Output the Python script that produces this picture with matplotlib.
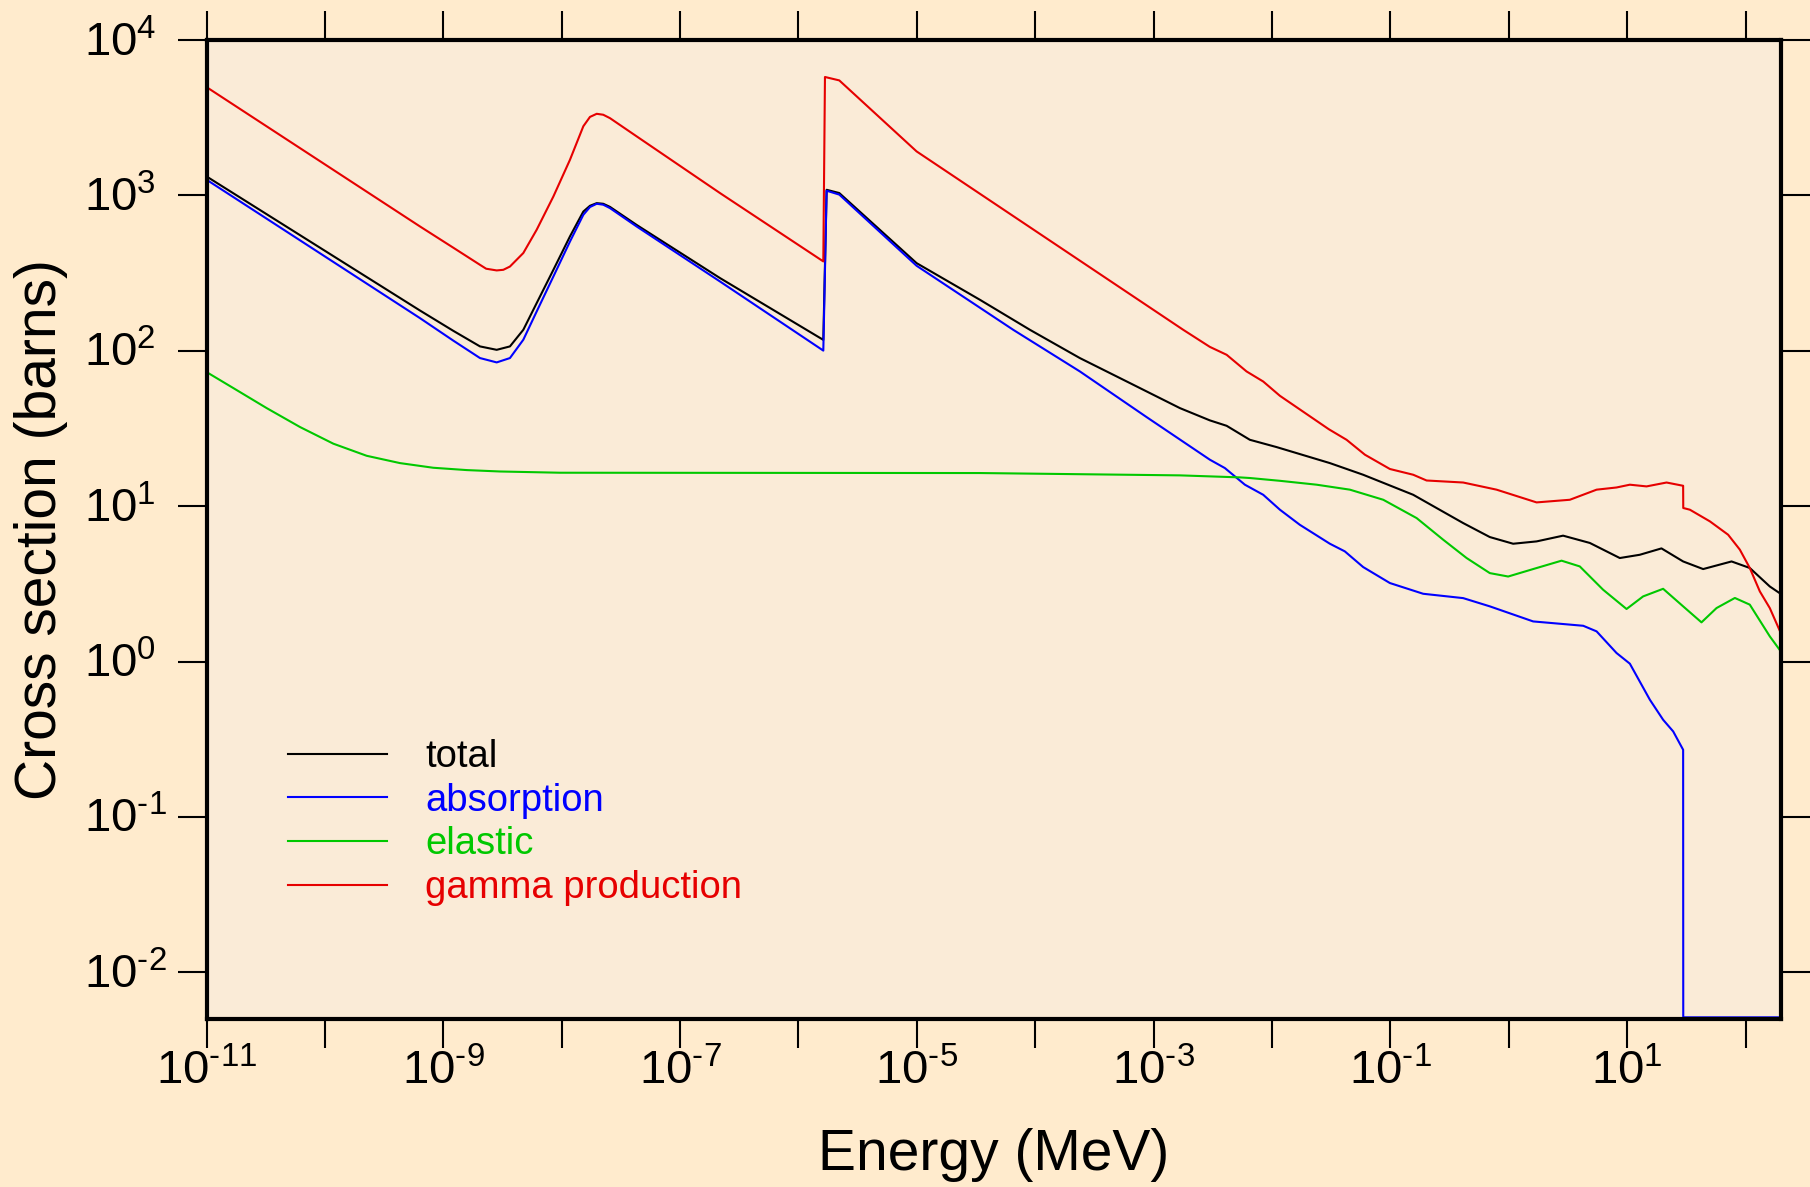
import matplotlib.pyplot as plt
import numpy as np
from matplotlib.ticker import NullLocator

plt.rcParams['font.family'] = ['Liberation Sans', 'DejaVu Sans']
plt.rcParams['mathtext.fontset'] = 'custom'
plt.rcParams['mathtext.rm'] = 'Liberation Sans'
plt.rcParams['mathtext.it'] = 'Liberation Sans:italic'
plt.rcParams['mathtext.bf'] = 'Liberation Sans:bold'
plt.rcParams['mathtext.default'] = 'regular'

# values, as log10(E / MeV) and log10(sigma / barns)
total_logE = [-11, -9.197, -8.915, -8.69, -8.549, -8.437, -8.324, -8.211, -8.07, -7.93,
              -7.817, -7.761, -7.704, -7.649, -7.592, -7.367, -6.663, -5.79, -5.762, -5.655,
              -5.002, -4.467, -4.045, -3.623, -3.2, -2.778, -2.525, -2.383, -2.187, -1.961,
              -1.511, -1.23, -1.004, -0.807, -0.61, -0.385, -0.16, 0.037, 0.235, 0.459,
              0.685, 0.938, 1.107, 1.29, 1.473, 1.642, 1.882, 2.036, 2.205, 2.298]
total_logS = [3.122, 2.259, 2.128, 2.028, 2.006, 2.028, 2.135, 2.307, 2.521, 2.736,
              2.896, 2.933, 2.950, 2.946, 2.926, 2.81, 2.468, 2.07, 3.036, 3.015,
              2.564, 2.328, 2.135, 1.953, 1.792, 1.631, 1.552, 1.517, 1.427, 1.380,
              1.277, 1.202, 1.133, 1.073, 0.988, 0.891, 0.801, 0.758, 0.773, 0.81,
              0.763, 0.666, 0.687, 0.728, 0.644, 0.595, 0.644, 0.602, 0.483, 0.435]

abs_logE = [-11, -9.197, -8.915, -8.69, -8.549, -8.437, -8.324, -8.211, -8.07, -7.93,
            -7.817, -7.761, -7.704, -7.649, -7.592, -7.367, -6.663, -5.79, -5.762, -5.655,
            -5.002, -4.186, -3.623, -3.059, -2.525, -2.398, -2.229, -2.074, -1.933, -1.765,
            -1.511, -1.385, -1.23, -1.004, -0.723, -0.385, -0.16, 0.206, 0.629, 0.742,
            0.91, 1.023, 1.192, 1.304, 1.389, 1.473, 1.474, 2.298]
abs_logS = [3.101, 2.210, 2.065, 1.953, 1.925, 1.953, 2.071, 2.253, 2.478, 2.703,
            2.875, 2.925, 2.946, 2.940, 2.918, 2.80, 2.446, 2.001, 3.03, 3.005,
            2.547, 2.135, 1.867, 1.573, 1.299, 1.245, 1.138, 1.073, 0.977, 0.88,
            0.758, 0.709, 0.608, 0.505, 0.436, 0.408, 0.355, 0.258, 0.230, 0.194,
            0.055, -0.014, -0.246, -0.375, -0.45, -0.568, -2.29, -2.29]

el_logE = [-11, -10.774, -10.492, -10.21, -9.929, -9.647, -9.366, -9.085, -8.802, -8.521,
           -8.014, -4.467, -2.778, -2.271, -2.187, -1.933, -1.623, -1.342, -1.06, -0.778,
           -0.554, -0.356, -0.16, -0.005, 0.206, 0.446, 0.6, 0.797, 0.995, 1.135,
           1.304, 1.473, 1.628, 1.755, 1.91, 2.036, 2.205, 2.298]
el_logS = [1.863, 1.760, 1.631, 1.509, 1.402, 1.324, 1.277, 1.247, 1.232, 1.223,
           1.215, 1.213, 1.198, 1.185, 1.181, 1.163, 1.138, 1.106, 1.041, 0.923,
           0.784, 0.666, 0.569, 0.547, 0.595, 0.649, 0.612, 0.462, 0.338, 0.419,
           0.468, 0.355, 0.252, 0.344, 0.409, 0.366, 0.162, 0.065]

gamma_logE = [-11, -9.197, -8.915, -8.69, -8.638, -8.549, -8.493, -8.437, -8.324, -8.211,
              -8.07, -7.93, -7.817, -7.761, -7.704, -7.649, -7.592, -7.367, -6.663, -5.79,
              -5.776, -5.655, -5.002, -2.75, -2.525, -2.383, -2.215, -2.074, -1.933, -1.52,
              -1.37, -1.215, -1.004, -0.807, -0.694, -0.385, -0.103, 0.235, 0.516, 0.742,
              0.91, 1.023, 1.164, 1.333, 1.473, 1.474, 1.53, 1.699, 1.853, 1.952,
              2.036, 2.121, 2.205, 2.298]
gamma_logS = [3.697, 2.80, 2.663, 2.553, 2.528, 2.517, 2.521, 2.542, 2.629, 2.779,
              2.993, 3.229, 3.445, 3.505, 3.525, 3.519, 3.497, 3.38, 3.015, 2.575,
              3.762, 3.74, 3.283, 2.135, 2.025, 1.974, 1.867, 1.802, 1.71, 1.495,
              1.427, 1.331, 1.239, 1.202, 1.165, 1.152, 1.106, 1.024, 1.041, 1.106,
              1.120, 1.138, 1.127, 1.152, 1.131, 0.988, 0.977, 0.902, 0.816, 0.72,
              0.602, 0.451, 0.344, 0.183]

series = [
    ('total', total_logE, total_logS, '#000000'),
    ('absorption', abs_logE, abs_logS, '#0000FF'),
    ('elastic', el_logE, el_logS, '#00C800'),
    ('gamma production', gamma_logE, gamma_logS, '#E60000'),
]

x_decades = list(range(-11, 3))
y_decades = list(range(-2, 5))


def power_label(k):
    # short hyphen instead of the wide math minus
    return '$10^{%s}$' % str(k).replace('-', '\u2010')


fig = plt.figure(figsize=(18.1, 11.87), dpi=100)
fig.patch.set_facecolor('#FFEBCD')
ax = fig.add_axes([0.1141, 0.1415, 0.8699, 0.8248])
ax.set_facecolor('#FAEBD7')

for name, lx, ly, col in series:
    ax.plot(10.0 ** np.array(lx), 10.0 ** np.array(ly), color=col, lw=1.5,
            label=name)

ax.set_xscale('log')
ax.set_yscale('log')
ax.set_xlim(1e-11, 10 ** 2.3)
ax.set_ylim(5e-3, 1e4)

ax.xaxis.set_minor_locator(NullLocator())
ax.yaxis.set_minor_locator(NullLocator())
ax.set_xticks([10.0 ** k for k in x_decades])
ax.set_xticklabels([power_label(k) if k % 2 else '' for k in x_decades])
ax.set_yticks([10.0 ** k for k in y_decades])

ax.tick_params(which='major', direction='out', length=21, width=1.5,
               top=True, right=True, labelsize=34, color='black',
               labelleft=False)
ax.tick_params(axis='x', pad=1)

# y labels: the "10" parts line up on the left, exponent sticks out
for k in y_decades:
    ax.annotate(power_label(k), xy=(0, 10.0 ** k),
                xycoords=('axes fraction', 'data'), xytext=(-88, -11.5),
                textcoords='offset points', ha='left', va='baseline',
                fontsize=34)

for sp in ax.spines.values():
    sp.set_linewidth(3)

ax.set_xlabel('Energy (MeV)', fontsize=41)
ax.set_ylabel('Cross section (barns)', fontsize=41)
ax.xaxis.set_label_coords(0.5, -0.111)
ax.yaxis.set_label_coords(-0.088, 0.5)

ax.legend(loc='upper left', bbox_to_anchor=(0.0515, 0.286), frameon=False,
          fontsize=27.5, handlelength=2.6, handletextpad=1.0, labelspacing=0.2,
          borderpad=0, borderaxespad=0, labelcolor='linecolor')

fig.savefig('out.png', dpi=100, facecolor=fig.get_facecolor())
